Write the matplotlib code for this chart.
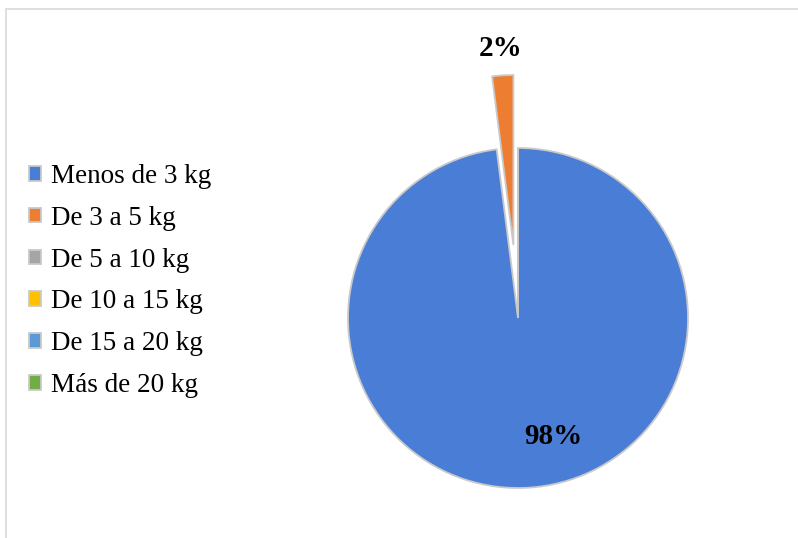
import matplotlib.pyplot as plt
from matplotlib.patches import Rectangle

categorias = ["Menos de 3 kg", "De 3 a 5 kg", "De 5 a 10 kg",
              "De 10 a 15 kg", "De 15 a 20 kg", "Más de 20 kg"]
porcentajes = [98, 2, 0, 0, 0, 0]
colores = ["#4A7DD6", "#ED7D31", "#A5A5A5", "#FFC000", "#5B9BD5", "#70AD47"]
separacion = [0, 0.43, 0, 0, 0, 0]

plt.rcParams['font.family'] = ['Liberation Serif', 'DejaVu Serif']

fig = plt.figure(figsize=(7.98, 5.38), dpi=100)
ax = fig.add_axes([0, 0, 1, 1])

# marco gris claro del area del grafico
fig.patches.append(Rectangle((6 / 798, -0.1), 1.2, 1 - 9 / 538 + 0.1,
                             transform=fig.transFigure, fill=False,
                             edgecolor="#D9D9D9", linewidth=1.2))

radio = 170
centro = (518, 538 - 318)

def etiqueta(p):
    return "%1.0f%%" % p if p >= 1 else ""

# explode de matplotlib va en unidades de datos, no relativo al radio
wedges, textos, autotextos = ax.pie(
    porcentajes, colors=colores, explode=[s * radio for s in separacion],
    startangle=90, counterclock=False, center=centro, radius=radio,
    autopct=etiqueta, pctdistance=1.16,
    wedgeprops=dict(edgecolor="#C9C9C9", linewidth=1.3),
    textprops=dict(fontsize=21, fontweight="bold", color="black"))

# la etiqueta del sector grande va dentro, hacia abajo
autotextos[0].set_position((553, 538 - 436))

ax.set_xlim(0, 798)
ax.set_ylim(0, 538)
ax.set_aspect("equal")
ax.axis("off")

fig.legend(wedges, categorias, loc="center left",
           bbox_to_anchor=(29 / 798, 1 - 281 / 538),
           frameon=False, fontsize=19.5, handlelength=0.45, handleheight=0.45,
           handletextpad=0.35, labelspacing=0.62, borderpad=0,
           borderaxespad=0)

plt.savefig("out.png", dpi=100)
